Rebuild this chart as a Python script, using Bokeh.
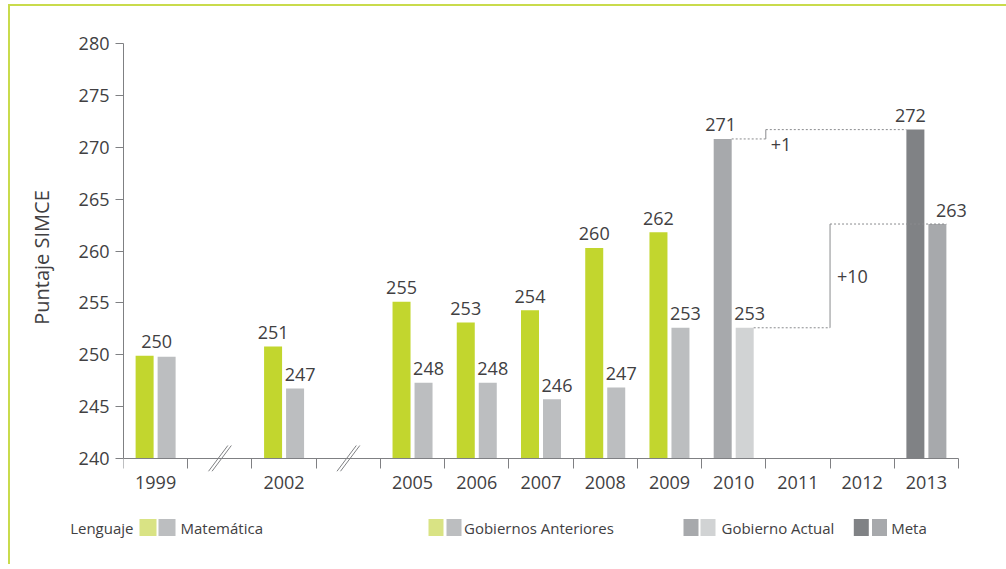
from bokeh.plotting import figure
from bokeh.models import Range1d, FixedTicker, ColumnDataSource, Div, LinearAxis
from bokeh.layouts import column, row
from bokeh.embed import file_html
from bokeh.resources import INLINE
from bokeh.core.properties import value

# ---------------- data ----------------
slot_labels = ["1999", "", "2002", "", "2005", "2006", "2007", "2008", "2009",
               "2010", "2011", "2012", "2013"]
years = ["1999", "2002", "2005", "2006", "2007", "2008", "2009", "2010", "2013"]
lenguaje = [249.9, 250.8, 255.1, 253.1, 254.3, 260.3, 261.8, 270.8, 271.7]
matematica = [249.8, 246.75, 247.3, 247.3, 245.7, 246.85, 252.6, 252.6, 262.6]
lenguaje_labels = ["250", "251", "255", "253", "254", "260", "262", "271", "272"]
matematica_labels = ["", "247", "248", "248", "246", "247", "253", "253", "263"]
period = ["anterior"] * 7 + ["actual", "meta"]
y_ticks = [240, 245, 250, 255, 260, 265, 270, 275, 280]
y_title = "Puntaje SIMCE"
legend_labels = ["Lenguaje", "Matemática", "Gobiernos Anteriores", "Gobierno Actual", "Meta"]

# ---------------- styles / layout ----------------
FONT = "Open Sans"
TXT = "#414042"
AXIS = "#7f8083"
GREEN_BORDER = "#c9db4c"
col_leng = {"anterior": "#c2d62e", "actual": "#a7a9ac", "meta": "#808285"}
col_mat = {"anterior": "#bcbec0", "actual": "#d1d3d4", "meta": "#a7a9ac"}
leg_green = "#d9e384"

ORG_X, ORG_Y = 10, 6            # page position of the main canvas
FR_L, FR_T, AX_R, AX_Y, FR_B = 123, 43, 958, 458, 471   # page px
EXTRA_R = 22
N_SLOTS = len(slot_labels)
PX = (AX_R - FR_L) / N_SLOTS
PY = (AX_Y - FR_T) / (y_ticks[-1] - y_ticks[0])
ML, MT, MR, MB = FR_L - ORG_X, FR_T - ORG_Y, 10, 45
FRAME_W = AX_R - FR_L + EXTRA_R
FRAME_H = FR_B - FR_T
W_CANVAS = ML + FRAME_W + MR
H_MAIN = MT + FRAME_H + MB
LEG_TOP = ORG_Y + H_MAIN
H_LEG = 48
OFF = 11 / PX
BW = 18 / PX

slot_of = {lab: i for i, lab in enumerate(slot_labels) if lab}
xc = [slot_of[y] for y in years]

p = figure(frame_width=FRAME_W, frame_height=FRAME_H, output_backend="svg",
           toolbar_location=None,
           x_range=Range1d(-0.5, N_SLOTS - 0.5 + EXTRA_R / PX),
           y_range=Range1d(y_ticks[0] - (FR_B - AX_Y) / PY, y_ticks[-1]),
           min_border_left=ML, min_border_top=MT, min_border_right=MR,
           min_border_bottom=MB)
p.outline_line_color = None
p.grid.visible = False
xa = p.below[0]
ya = p.left[0]

# bars
src_l = ColumnDataSource(dict(x=[x - OFF for x in xc], top=lenguaje,
                              color=[col_leng[k] for k in period]))
src_m = ColumnDataSource(dict(x=[x + OFF for x in xc], top=matematica,
                              color=[col_mat[k] for k in period]))
p.vbar(x="x", top="top", bottom=y_ticks[0], width=BW, fill_color="color",
       line_color=None, source=src_l)
p.vbar(x="x", top="top", bottom=y_ticks[0], width=BW, fill_color="color",
       line_color=None, source=src_m)

# value labels (pixel nudges)
nudge_l = {"1999": 12, "2010": -2, "2013": -5}
nudge_m = {"2013": 14}
lab_src = ColumnDataSource(dict(
    x=[x - OFF for x in xc] + [x + OFF for x in xc],
    y=lenguaje + matematica,
    t=lenguaje_labels + matematica_labels,
    dx=[nudge_l.get(y, 0) for y in years] + [nudge_m.get(y, 5) for y in years]))
p.text(x="x", y="y", text="t", x_offset="dx", y_offset=-14, source=lab_src,
       text_align="center", text_baseline="middle",
       text_font=value(FONT), text_font_size="18px", text_color=TXT)

# connectors 2010 -> 2013
i10, i13 = years.index("2010"), years.index("2013")
l10, l13 = lenguaje[i10], lenguaje[i13]
m10, m13 = matematica[i10], matematica[i13]
b1 = slot_of["2010"] + 0.5
b2 = slot_of["2011"] + 0.5
p.segment(x0=[xc[i10] - OFF + BW / 2, b1, xc[i10] + OFF + BW / 2, b2],
          y0=[l10, l13, m10, m13],
          x1=[b1, xc[i13] - OFF - BW / 2, b2, xc[i13] + OFF + BW / 2],
          y1=[l10, l13, m10, m13],
          line_color="#8a8b8e", line_width=1, line_dash="2 2")
p.segment(x0=[b1, b2], y0=[l10, m10], x1=[b1, b2], y1=[l13, m13],
          line_color="#8a8b8e", line_width=1)
d1 = int(lenguaje_labels[i13]) - int(lenguaje_labels[i10])
d2 = int(matematica_labels[i13]) - int(matematica_labels[i10])
p.text(x=[b1], y=[l10], text=[f"+{d1}"], x_offset=5, y_offset=6,
       text_align="left", text_baseline="middle",
       text_font=value(FONT), text_font_size="18px", text_color=TXT)
p.text(x=[b2], y=[(m10 + m13) / 2], text=[f"+{d2}"], x_offset=7, y_offset=1,
       text_align="left", text_baseline="middle",
       text_font=value(FONT), text_font_size="18px", text_color=TXT)

# axis break marks in the empty slots
gaps = [i for i, lab in enumerate(slot_labels) if not lab]
bx0, bx1, by0, by1 = [], [], [], []
for g in gaps:
    for a, b in [(-11.5, 8.0), (-8.0, 11.5)]:
        bx0.append(g + a / PX); bx1.append(g + b / PX)
        by0.append(y_ticks[0] - 13 / PY); by1.append(y_ticks[0] + 13 / PY)
p.segment(x0=bx0, y0=by0, x1=bx1, y1=by1, line_color=AXIS, line_width=1)

# y axis
ya.bounds = (y_ticks[0], y_ticks[-1])
ya.ticker = FixedTicker(ticks=y_ticks)
ya.axis_line_color = AXIS
ya.major_tick_line_color = AXIS
ya.major_tick_out = 8
ya.major_tick_in = 0
ya.minor_tick_line_color = None
ya.major_label_standoff = 6
ya.major_label_text_font = FONT
ya.major_label_text_font_size = "18px"
ya.major_label_text_color = TXT
ya.axis_label = y_title
ya.axis_label_text_font = FONT
ya.axis_label_text_font_size = "20px"
ya.axis_label_text_font_style = "normal"
ya.axis_label_text_color = TXT
ya.axis_label_standoff = 21

# x labels (year of each slot) on the bottom axis, no line / ticks
major = [i for i, lab in enumerate(slot_labels) if lab]
xa.ticker = FixedTicker(ticks=major)
xa.major_label_overrides = {i: lab for i, lab in enumerate(slot_labels) if lab}
xa.axis_line_color = None
xa.major_tick_line_color = None
xa.minor_tick_line_color = None
xa.major_tick_out = 0
xa.major_tick_in = 0
xa.major_label_standoff = 4
xa.major_label_text_font = FONT
xa.major_label_text_font_size = "18px"
xa.major_label_text_color = TXT

# x axis line + slot ticks, pinned to the 240 baseline
boundaries = [i - 0.5 for i in range(N_SLOTS + 1)]
base = LinearAxis(fixed_location=y_ticks[0], bounds=(-0.5, N_SLOTS - 0.5),
                  ticker=FixedTicker(ticks=[], minor_ticks=boundaries),
                  axis_line_color=AXIS, major_tick_line_color=None,
                  minor_tick_line_color=AXIS, minor_tick_in=10, minor_tick_out=0,
                  major_tick_in=0, major_tick_out=0, major_label_standoff=0,
                  major_label_text_font_size="0px")
p.add_layout(base, "above")

# ---------------- legend strip (page coordinates) ----------------
leg = figure(width=W_CANVAS, height=H_LEG, output_backend="svg", toolbar_location=None,
             x_range=Range1d(FR_L, FR_L + FRAME_W),
             y_range=Range1d(LEG_TOP + H_LEG, LEG_TOP),
             x_axis_location=None, y_axis_location="left",
             min_border_left=ML, min_border_right=MR, min_border_top=0,
             min_border_bottom=0)
leg.outline_line_color = None
leg.grid.visible = False

ROW_Y = 527
sw_x = [147.5, 166.5, 435.5, 453.5, 690.5, 707.5, 860.8, 879.0]
sw_w = [17, 17, 15, 15, 15, 15, 15, 15]
sw_c = [leg_green, col_mat["anterior"], leg_green, col_mat["anterior"],
        col_leng["actual"], col_mat["actual"], col_leng["meta"], col_mat["meta"]]
leg.rect(x=sw_x, y=ROW_Y, width=sw_w, height=17, fill_color=sw_c, line_color=None)
leg.text(x=[180, 463.5, 721, 890.7], y=[ROW_Y] * 4, text=legend_labels[1:],
         text_align="left", text_baseline="middle", text_font=value(FONT),
         text_font_size="15px", text_color=TXT)

la = leg.left[0]
la.ticker = FixedTicker(ticks=[ROW_Y])
la.major_label_overrides = {ROW_Y: legend_labels[0]}
la.axis_line_color = None
la.major_tick_line_color = None
la.minor_tick_line_color = None
la.major_tick_out = 0
la.major_tick_in = 0
la.major_label_standoff = -10
la.major_label_text_font = FONT
la.major_label_text_font_size = "15px"
la.major_label_text_color = TXT

# ---------------- green frame ----------------
PAGE_W = 1006
top_strip = Div(width=PAGE_W - (ORG_X - 2), height=2,
                margin=(ORG_Y - 2, 0, 0, ORG_X - 2),
                styles={"background-color": GREEN_BORDER})
left_strip = Div(width=2, height=H_MAIN + H_LEG, margin=(0, 0, 0, ORG_X - 2),
                 styles={"background-color": GREEN_BORDER})
layout = column(top_strip, row(left_strip, column(p, leg)))

open("out.html", "w").write(file_html(layout, INLINE))
